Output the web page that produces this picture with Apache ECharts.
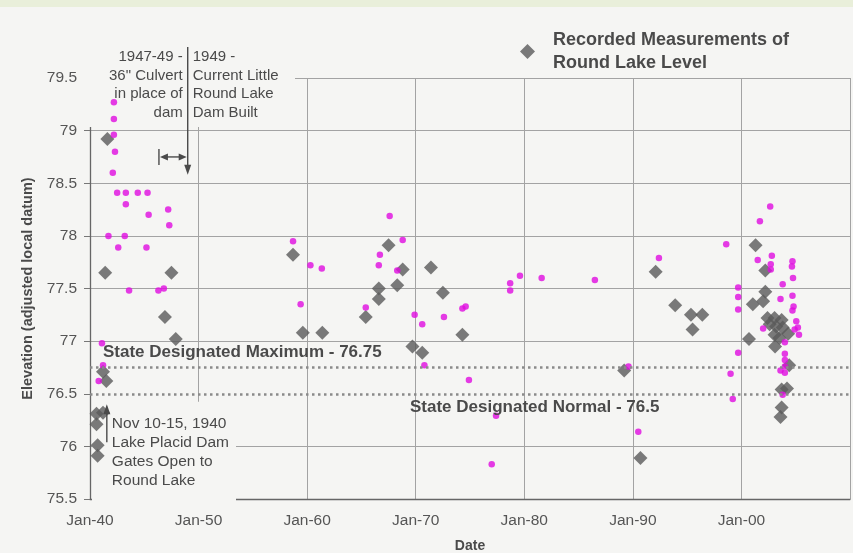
<!DOCTYPE html>
<html><head><meta charset="utf-8">
<script src="https://cdn.jsdelivr.net/npm/echarts@6/dist/echarts.min.js"></script>
<style>html,body{margin:0;padding:0;background:#f5f5f3}#c{width:853px;height:553px}</style>
</head><body><div id="c"></div>
<script>
// Recorded measurements of Round Lake level (gray diamonds)
const recordedYears = [1941.6,1941.4,1947.5,1946.9,1947.9,1941.2,1941.5,1940.6,1941.2,1940.6,1940.7,1940.7,
  1958.7,1959.6,1961.4,1967.5,1968.8,1966.6,1966.6,1968.3,1965.4,1971.4,1972.5,1974.3,1969.7,1970.6,
  1989.2,1990.7,1992.1,1993.9,1995.35,1996.4,1995.5,
  2001.3,2002.2,2002.2,2001.05,2002.0,2000.7,2003.1,2002.4,2003.05,2003.7,2002.6,2003.2,2003.8,2004.3,2003.05,2003.5,2004.4,2003.7,2004.2,2003.7,2003.6];
const recordedLevels = [78.92,77.65,77.65,77.23,77.02,76.71,76.62,76.31,76.32,76.21,76.01,75.91,
  77.82,77.08,77.08,77.91,77.68,77.50,77.40,77.53,77.23,77.70,77.46,77.06,76.95,76.89,
  76.72,75.89,77.66,77.34,77.25,77.25,77.11,
  77.91,77.67,77.47,77.35,77.38,77.02,76.95,77.22,77.22,77.20,77.16,77.14,77.13,77.07,77.06,77.03,76.77,76.54,76.55,76.37,76.28];
// Other observations (magenta dots)
const otherYears = [1942.2,1942.2,1942.2,1942.3,1942.1,1942.5,1943.3,1944.4,1945.3,1943.3,1947.2,1945.4,1947.3,1941.7,1943.2,1942.6,1945.2,1943.6,1946.3,1946.8,1941.1,1941.2,1940.8,
  1958.7,1960.3,1961.35,1959.4,1967.6,1968.8,1966.7,1966.6,1968.3,1965.4,1969.9,1970.6,1972.6,1974.3,1974.6,1970.8,1974.9,1977.4,1977.0,1978.7,1978.7,1979.6,1981.6,1986.5,1989.6,1990.5,1992.4,
  1998.6,2002.65,2001.7,1999.7,1999.7,1999.7,1999.7,1999.0,1999.2,2001.5,2002.8,2002.7,2002.7,2004.7,2004.65,2004.75,2003.8,2004.7,2003.6,2004.8,2004.7,2005.05,2004.9,2005.3,2002.0,2004.0,2004.0,2004.0,2004.0,2003.6,2004.0,2003.8,2005.2];
const otherLevels = [79.27,79.11,78.96,78.80,78.60,78.41,78.41,78.41,78.41,78.30,78.25,78.20,78.10,78.00,78.00,77.89,77.89,77.48,77.48,77.50,76.98,76.77,76.62,
  77.95,77.72,77.69,77.35,78.19,77.96,77.82,77.72,77.67,77.32,77.25,77.16,77.23,77.31,77.33,76.77,76.63,76.29,75.83,77.55,77.48,77.62,77.60,77.58,76.76,76.14,77.79,
  77.92,78.28,78.14,77.51,77.42,77.30,76.89,76.69,76.45,77.77,77.81,77.73,77.68,77.76,77.71,77.60,77.54,77.43,77.40,77.33,77.29,77.19,77.11,77.06,77.12,76.99,76.88,76.82,76.76,76.72,76.70,76.49,77.13];
// Axes
const yearMin = 1940, yearMax = 2010, yearStep = 10;
const levelMin = 75.5, levelMax = 79.5, levelStep = 0.5;
const stateMaximum = 76.75, stateNormal = 76.5;
const legendName = 'Recorded Measurements of\nRound Lake Level';

const zip = (a, b) => a.map((v, i) => [v, b[i]]);
const FONT = '"Liberation Sans", Arial, Helvetica, sans-serif';
const INK = '#4a4a4a';
const BG = '#f5f5f3';
const GRID = '#a3a3a3';

// split line colours: hide the solid line at the normal level (dotted line drawn there)
const splitColors = [];
for (let v = levelMin; v <= levelMax + 1e-9; v += levelStep) {
  splitColors.push(Math.abs(v - stateNormal) < 1e-6 ? 'rgba(0,0,0,0)' : GRID);
}

const chart = echarts.init(document.getElementById('c'), null, {renderer: 'canvas'});
chart.setOption({
  backgroundColor: BG,
  animation: false,
  textStyle: {fontFamily: FONT},
  grid: {left: 90, right: 3, top: 78, bottom: 54, containLabel: false, outerBoundsMode: 'none'},
  legend: {
    data: [legendName], left: 515, top: 24, itemWidth: 15, itemHeight: 15, icon: 'diamond',
    itemStyle: {color: '#5a5a5a'},
    textStyle: {fontFamily: FONT, fontWeight: 'bold', fontSize: 18, color: INK, lineHeight: 22.4, padding: [0, 0, 0, 13]}
  },
  xAxis: {
    type: 'value', min: yearMin, max: yearMax, interval: yearStep,
    name: 'Date', nameLocation: 'middle', nameGap: 40,
    nameTextStyle: {fontFamily: FONT, fontWeight: 'bold', fontSize: 14, color: INK},
    axisLine: {show: true, lineStyle: {color: '#666', width: 1.3}},
    axisTick: {show: false},
    axisLabel: {margin: 14, fontSize: 15.5, color: '#555', fontFamily: FONT,
      formatter: v => v >= yearMax ? '' : 'Jan-' + String(v % 100).padStart(2, '0')},
    splitLine: {show: true, lineStyle: {color: GRID, width: 1}}
  },
  yAxis: {
    type: 'value', min: levelMin, max: levelMax, interval: levelStep,
    name: 'Elevation (adjusted local datum)', nameLocation: 'middle', nameGap: 50,
    nameTextStyle: {fontFamily: FONT, fontWeight: 'bold', fontSize: 14.5, color: INK},
    axisLine: {show: true, lineStyle: {color: '#666', width: 1.3}},
    axisTick: {show: true, length: 6, lineStyle: {color: '#777'}},
    axisLabel: {margin: 13, fontSize: 15.5, color: '#555', fontFamily: FONT},
    splitLine: {show: true, lineStyle: {color: splitColors, width: 1}}
  },
  series: [
    {
      name: legendName, type: 'scatter', symbol: 'diamond', symbolSize: 14, z: 3,
      itemStyle: {color: '#5a5a5a'},
      data: zip(recordedYears, recordedLevels),
      markLine: {
        silent: true, symbol: 'none', label: {show: false},
        lineStyle: {color: '#8a8a8a', type: [2.5, 3.5], width: 2.5},
        data: [{yAxis: stateMaximum}, {yAxis: stateNormal}]
      }
    },
    {
      name: 'Other', type: 'scatter', symbol: 'circle', symbolSize: 6.5, z: 4,
      itemStyle: {color: '#e00be0'},
      data: zip(otherYears, otherLevels)
    }
  ]
});

const P = (x, y) => chart.convertToPixel({gridIndex: 0}, [x, y]);
const arrowX = P(1949, levelMax)[0];
const arrowTipY = P(1949, 78.58)[1];
const brLeft = P(1946.35, 78.75);
const novX = P(1941.55, 76)[0];
const novTipY = P(1941.55, 76.4)[1];
const novBotY = P(1941.55, 76.04)[1];
const maxY = P(1941, stateMaximum)[1];
const normY = P(1941, stateNormal)[1];
const topLeft = P(yearMin, levelMax);
const botLeft = P(yearMin, levelMin);

const txt = (text, x, y, align, font, extra) => Object.assign({
  type: 'text', z: 20,
  style: Object.assign({text, x, y, align, verticalAlign: 'top', font, fill: INK}, extra || {})
});

chart.setOption({
  graphic: [
    {type: 'rect', z: -5, silent: true, shape: {x: 0, y: 0, width: 853, height: 7}, style: {fill: '#e9efda'}},
    // covers behind the annotation texts
    {type: 'rect', z: 1, silent: true, shape: {x: topLeft[0] - 7, y: 28, width: 212, height: topLeft[1] + 49 - 28}, style: {fill: BG}},
    {type: 'rect', z: 1, silent: true, shape: {x: botLeft[0] + 2, y: normY + 8, width: 144, height: botLeft[1] - normY - 6}, style: {fill: BG}},
    // 1949 arrow
    {type: 'line', z: 20, shape: {x1: arrowX, y1: 47, x2: arrowX, y2: arrowTipY - 8}, style: {stroke: INK, lineWidth: 1.4}},
    {type: 'polygon', z: 20, shape: {points: [[arrowX - 3.5, arrowTipY - 10], [arrowX + 3.5, arrowTipY - 10], [arrowX, arrowTipY]]}, style: {fill: INK}},
    // 1947-49 bracket
    {type: 'line', z: 20, shape: {x1: brLeft[0], y1: brLeft[1] - 8, x2: brLeft[0], y2: brLeft[1] + 8}, style: {stroke: INK, lineWidth: 1.4}},
    {type: 'line', z: 20, shape: {x1: brLeft[0] + 4, y1: brLeft[1], x2: arrowX - 4, y2: brLeft[1]}, style: {stroke: INK, lineWidth: 1.4}},
    {type: 'polygon', z: 20, shape: {points: [[brLeft[0] + 1, brLeft[1]], [brLeft[0] + 9, brLeft[1] - 3.5], [brLeft[0] + 9, brLeft[1] + 3.5]]}, style: {fill: INK}},
    {type: 'polygon', z: 20, shape: {points: [[arrowX - 1, brLeft[1]], [arrowX - 9, brLeft[1] - 3.5], [arrowX - 9, brLeft[1] + 3.5]]}, style: {fill: INK}},
    txt('1947-49 -\n36" Culvert\nin place of\ndam', arrowX - 5, 48, 'right', '15px ' + FONT, {lineHeight: 18.5}),
    txt('1949 -\nCurrent Little\nRound Lake\nDam Built', arrowX + 5, 48, 'left', '15px ' + FONT, {lineHeight: 18.5}),
    // Nov 1940 arrow
    {type: 'line', z: 20, shape: {x1: novX, y1: novTipY + 8, x2: novX, y2: novBotY}, style: {stroke: INK, lineWidth: 1.4}},
    {type: 'polygon', z: 20, shape: {points: [[novX, novTipY], [novX - 3.5, novTipY + 10], [novX + 3.5, novTipY + 10]]}, style: {fill: INK}},
    txt('Nov 10-15, 1940\nLake Placid Dam\nGates Open to\nRound Lake', novX + 5, 414, 'left', '15.5px ' + FONT, {lineHeight: 19}),
    // state lines labels
    txt('State Designated Maximum - 76.75', 103, maxY - 15, 'left', 'bold 17px ' + FONT, {verticalAlign: 'middle'}),
    txt('State Designated Normal - 76.5', 410, normY + 14, 'left', 'bold 17px ' + FONT, {verticalAlign: 'middle'})
  ]
});
</script></body></html>
